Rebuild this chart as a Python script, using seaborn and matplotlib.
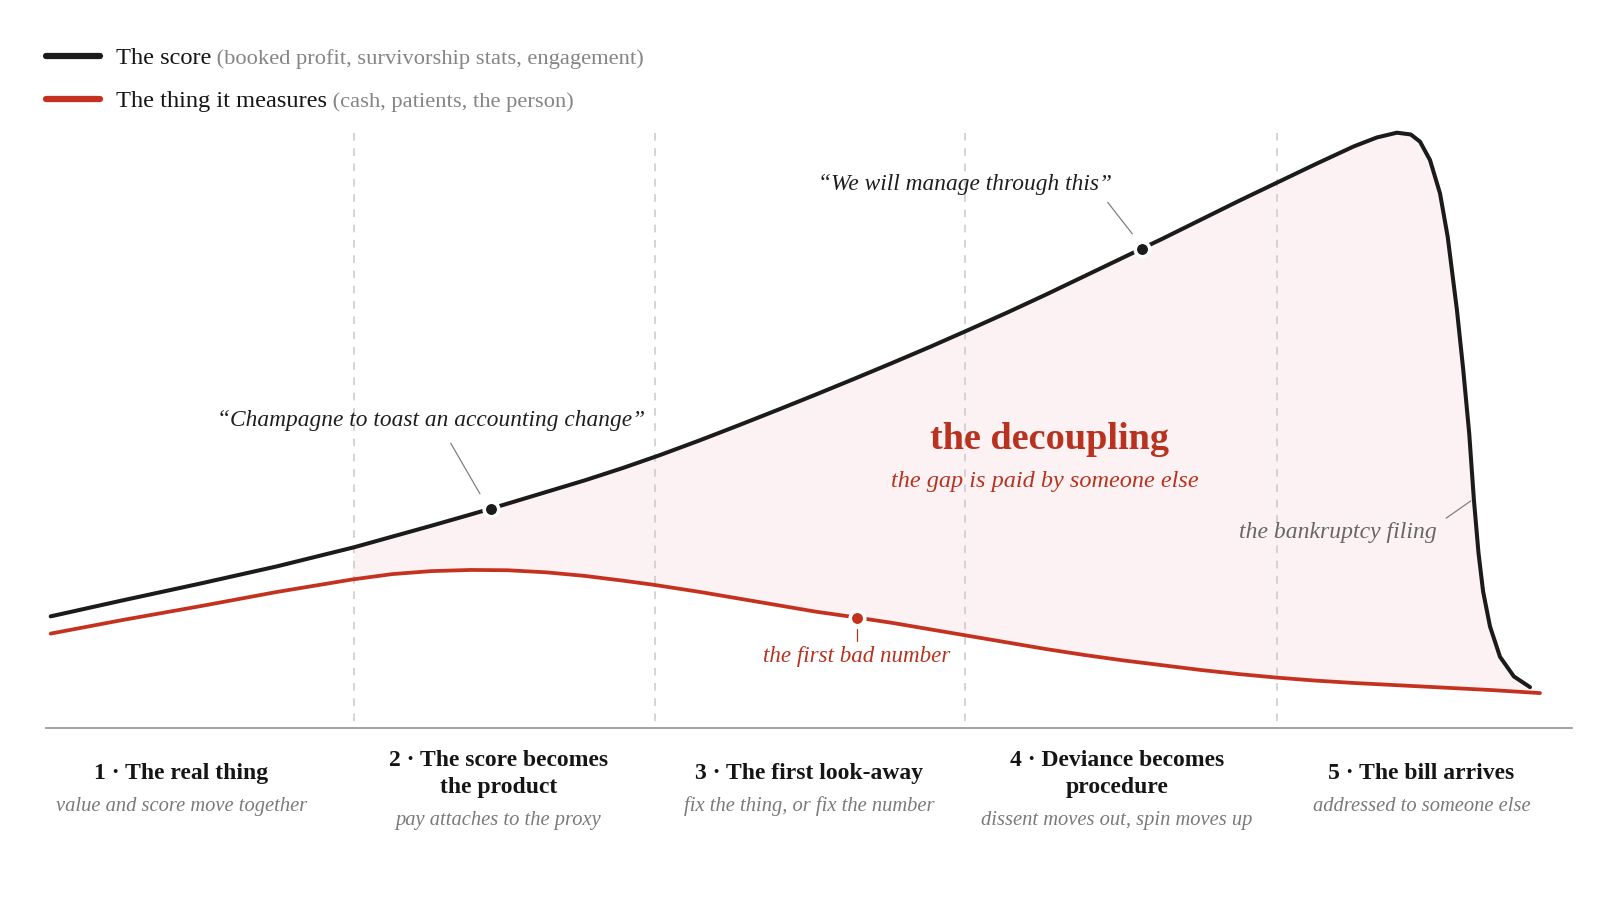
import matplotlib
matplotlib.use("Agg")
import matplotlib.pyplot as plt
import seaborn as sns
import pandas as pd

# ---------------- data ----------------
score_x = [0.3, 5, 10, 15, 20, 22.5, 25, 27.5, 28.9, 30, 32.5, 35, 37.5, 40, 42.5, 45,
           47.5, 50, 52.5, 55, 57.5, 60, 62.5, 65, 67.5, 70, 71.2, 72.5, 75, 77.5, 80,
           82.5, 85, 86.5, 87.8, 88.7, 89.3, 89.95, 90.6, 91.1, 91.7, 92.1, 92.5, 92.8,
           93.1, 93.4, 93.85, 94.5, 95.4, 96.45]
score_y = [18.8, 21.5, 24.3, 27.2, 30.4, 32.2, 34.0, 35.85, 36.9, 37.75, 39.7, 41.65,
           43.75, 46.0, 48.4, 50.9, 53.45, 56.05, 58.7, 61.4, 64.15, 67.0, 69.9, 72.9,
           76.0, 79.1, 80.6, 82.2, 85.4, 88.6, 91.7, 94.8, 97.8, 99.3, 100.1, 99.8, 98.6,
           95.5, 89.9, 82.6, 70.3, 60.5, 49.5, 38.5, 29.5, 23.0, 17.1, 12.0, 8.7, 6.9]

thing_x = [0.3, 5, 10, 15, 19.9, 22.5, 25, 27.6, 30, 32.5, 35, 37.5, 39.5, 42.5, 45,
           47.5, 50, 52.7, 55, 57.5, 60, 62.5, 65, 67.5, 70, 72.5, 75, 77.5, 80, 82.5,
           85, 88, 91, 94, 97.1]
thing_y = [15.9, 18.2, 20.5, 22.9, 25.0, 25.9, 26.4, 26.6, 26.55, 26.2, 25.6, 24.8,
           24.1, 22.9, 21.8, 20.7, 19.6, 18.6, 17.7, 16.6, 15.5, 14.4, 13.3, 12.3, 11.4,
           10.6, 9.8, 9.1, 8.5, 8.0, 7.6, 7.2, 6.8, 6.4, 5.9]

phase_bounds = [20, 39.6, 59.7, 80]
phase_centers = [8.8, 29.4, 49.6, 69.6, 89.4]
phase_titles = ["1 · The real thing", "2 · The score becomes\nthe product",
                "3 · The first look-away", "4 · Deviance becomes\nprocedure",
                "5 · The bill arrives"]
phase_subs = ["value and score move together", "pay attaches to the proxy",
              "fix the thing, or fix the number", "dissent moves out, spin moves up",
              "addressed to someone else"]

score_marks_x = [28.9, 71.2]
score_marks_y = [36.9, 80.6]
thing_marks_x = [52.7]
thing_marks_y = [18.6]

legend_names = ["The score", "The thing it measures"]
legend_notes = [" (booked profit, survivorship stats, engagement)",
                " (cash, patients, the person)"]

gap_start = 19.9

# ---------------- style ----------------
sns.set_theme(style="white")
plt.rcParams["font.family"] = ["Liberation Serif", "DejaVu Serif"]

BLACK = "#1b1b1b"
RED = "#c4321f"
FILL = "#fcf1f3"
GREY = "#858585"

fig = plt.figure(figsize=(16, 9), dpi=100)
fig.patch.set_facecolor("white")
ax = fig.add_axes([0.0288, 0.1909, 0.9539, 0.6610])
ax.set_xlim(0, 99.2)
ax.set_ylim(0, 100)
ax.set_facecolor("white")

# gap fill (polygon built from the two series)
poly_x = [x for x in score_x if x >= gap_start] + [x for x in thing_x if x >= gap_start][::-1]
poly_y = [y for x, y in zip(score_x, score_y) if x >= gap_start] + \
         [y for x, y in zip(thing_x, thing_y) if x >= gap_start][::-1]
ax.fill(poly_x, poly_y, color=FILL, lw=0, zorder=1)

# phase boundaries (dash pattern starts at the top)
for b in phase_bounds:
    ax.plot([b, b], [100, 0], color="#c9c9c9", lw=1.1, ls=(0, (5, 5)), zorder=2)

score_df = pd.DataFrame({"x": score_x, "y": score_y})
thing_df = pd.DataFrame({"x": thing_x, "y": thing_y})
sns.lineplot(data=thing_df, x="x", y="y", color=RED, lw=2.7, ax=ax, zorder=3,
             sort=False, estimator=None)
sns.lineplot(data=score_df, x="x", y="y", color=BLACK, lw=2.9, ax=ax, zorder=3,
             sort=False, estimator=None)
for ln in ax.lines[-2:]:
    ln.set_clip_on(False)
    ln.set_solid_capstyle("round")
    ln.set_solid_joinstyle("round")

sns.scatterplot(x=score_marks_x, y=score_marks_y, color=BLACK, s=110,
                edgecolor="white", linewidth=2.6, ax=ax, zorder=5, clip_on=False)
sns.scatterplot(x=thing_marks_x, y=thing_marks_y, color=RED, s=110,
                edgecolor="white", linewidth=2.6, ax=ax, zorder=5, clip_on=False)

# axis styling
for side in ["top", "left", "right"]:
    ax.spines[side].set_visible(False)
ax.spines["bottom"].set_color("#9c9c9c")
ax.spines["bottom"].set_linewidth(1.3)
ax.set_xticks([])
ax.set_yticks([])
ax.set_xlabel("")
ax.set_ylabel("")

# annotations
lead = dict(color="#808080", lw=0.9, zorder=4)
ax.text(25.0, 51.7, "“Champagne to toast an accounting change”", ha="center", va="center",
        fontsize=16.8, style="italic", color="#1e1e1e")
ax.plot([26.3, 28.2], [47.9, 39.4], **lead)

ax.text(59.7, 91.4, "“We will manage through this”", ha="center", va="center",
        fontsize=16.8, style="italic", color="#1e1e1e")
ax.plot([69.0, 70.6], [88.4, 83.1], **lead)

ax.text(65.2, 48.6, "the decoupling", ha="center", va="center", fontsize=27.5,
        fontweight="bold", color="#b8321f")
ax.text(64.9, 41.4, "the gap is paid by someone else", ha="center", va="center",
        fontsize=17.5, style="italic", color="#b8321f")

ax.text(90.4, 32.9, "the bankruptcy filing", ha="right", va="center", fontsize=17,
        style="italic", color="#666666")
ax.plot([91.0, 92.6], [35.3, 38.2], **lead)

ax.text(52.7, 12.1, "the first bad number", ha="center", va="center", fontsize=16.6,
        style="italic", color="#b8321f")
ax.plot([52.7, 52.7], [16.6, 14.6], color="#b8321f", lw=0.9, zorder=4)

# phase labels under the axis
xt = ax.get_xaxis_transform()
for cx, title, sub in zip(phase_centers, phase_titles, phase_subs):
    nlines = title.count("\n") + 1
    ax.text(cx, -0.077, title, transform=xt, ha="center", va="center",
            multialignment="center", fontsize=17, fontweight="bold",
            color="#151515", linespacing=1.42)
    ax.text(cx, -0.131 - 0.024 * (nlines - 1), sub, transform=xt, ha="center",
            va="center", fontsize=14.8, style="italic", color="#7a7a7a")

# legend
leg_y = [0.9373, 0.8895]
for name, note, col, yy in zip(legend_names, legend_notes, [BLACK, RED], leg_y):
    fig.add_artist(plt.Line2D([0.0288, 0.0628], [yy, yy], color=col, lw=4.5,
                              transform=fig.transFigure, solid_capstyle="round"))
    t1 = fig.text(0.0724, yy - 0.008, name, ha="left", va="baseline", fontsize=17.6,
                  color="#151515")
    fig.add_artist(plt.matplotlib.text.Annotation(
        note, xy=(1, yy - 0.008), xycoords=(t1, "figure fraction"),
        ha="left", va="baseline", fontsize=16.2, color=GREY))

fig.savefig("out.png", dpi=100, facecolor="white")
